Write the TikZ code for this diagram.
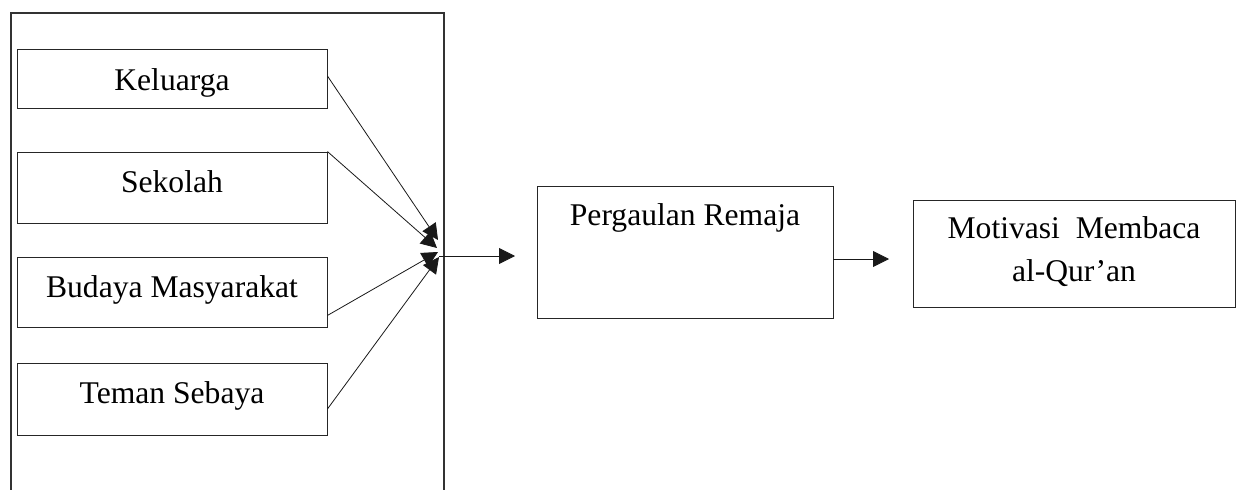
\documentclass[tikz,border=0pt]{standalone}
\usepackage{fontspec}
\setmainfont{Liberation Serif}
\usetikzlibrary{arrows.meta}
\tikzset{
  box/.style={draw=black!85, line width=0.9pt, rectangle, inner sep=0pt},
  sidebox/.style={box, minimum width=310pt, minimum height=#1},
  lbl/.style={anchor=base, inner sep=0pt, font=\fontsize{31.6}{38}\selectfont},
  link/.style={draw=black!90, line width=0.8pt, -{Triangle[length=16pt,width=16pt]}},
  frame/.style={draw=black!80, line width=1.6pt}
}
\begin{document}
\begin{tikzpicture}[x=1pt,y=-1pt]
\useasboundingbox (0,0) rectangle (1240,490);
% outer frame, open at the bottom
\draw[frame] (11,490) -- (11,13) -- (444,13) -- (444,490);

% factor boxes
\node[sidebox=59pt]  (kel) at (172,78.5) {};
\node[sidebox=71pt]  (sek) at (172,187.5) {};
\node[sidebox=70pt]  (bud) at (172,292) {};
\node[sidebox=72pt]  (tem) at (172,399) {};
\node[lbl] (kelt) at (172,90)  {Keluarga};
\node[lbl] (sekt) at (172,192) {Sekolah};
\node[lbl] (budt) at (172,297) {Budaya Masyarakat};
\node[lbl] (temt) at (172,403) {Teman Sebaya};

% middle and final boxes
\node[box, minimum width=296pt, minimum height=132pt] (perg) at (685,252) {};
\node[lbl] (pergt) at (685,225) {Pergaulan Remaja};
\node[box, minimum width=322pt, minimum height=107pt] (mot) at (1074,253.5) {};
\node[lbl] (mott1) at (1074,238) {Motivasi\ \ Membaca};
\node[lbl] (mott2) at (1074,281) {al-Qur’an};

% convergence points near the frame
\coordinate (hk) at (438,240);
\coordinate (hs) at (437,248);
\coordinate (hb) at (438,252);
\coordinate (ht) at (439,257);
\coordinate (hub) at (439,256);
\coordinate (pin) at (515,256);
\coordinate (pout) at (889,259);

\draw[link] ([yshift=2.5pt]kel.east) -- (hk);
\draw[link] (sek.north east) -- (hs);
\draw[link] ([yshift=12pt]bud.south east) -- (hb);
\draw[link] ([yshift=-10pt]tem.east) -- (ht);
\draw[link] (hub) -- (pin);
\draw[link] ([yshift=-7pt]perg.east) -- (pout);
\end{tikzpicture}
\end{document}
